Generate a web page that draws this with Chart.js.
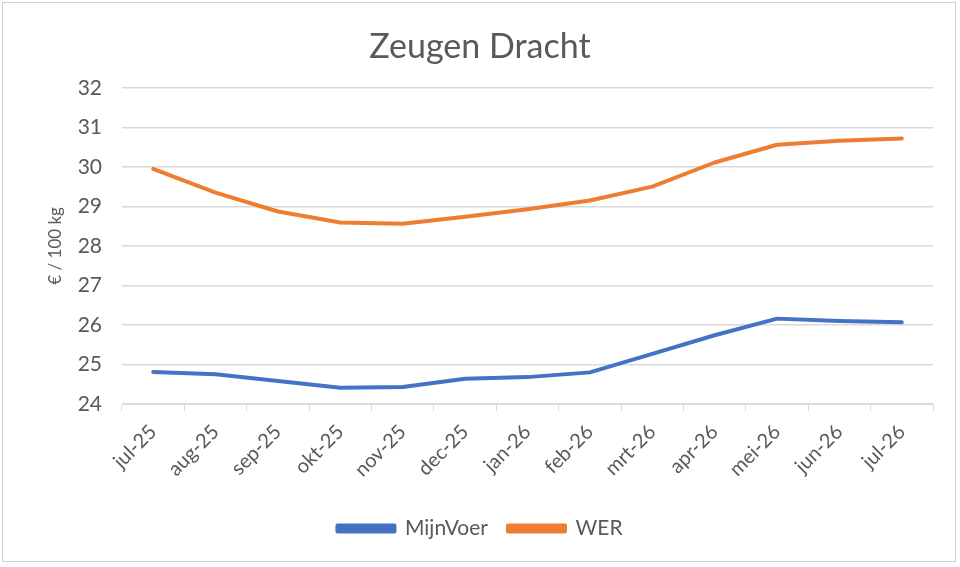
<!DOCTYPE html>
<html>
<head>
<meta charset="utf-8">
<script src="https://cdn.jsdelivr.net/npm/chart.js@4"></script>
<style>
html,body{margin:0;padding:0;background:#fff;}
#wrap{position:absolute;left:0;top:0;width:960px;height:567px;}
#frame{position:absolute;left:2px;top:2px;width:954px;height:560px;border:1px solid #d0d0d0;box-sizing:border-box;pointer-events:none;}
</style>
</head>
<body>
<div id="wrap"><canvas id="c" width="960" height="567"></canvas><div id="frame"></div></div>
<script>
const categories = ['jul-25','aug-25','sep-25','okt-25','nov-25','dec-25','jan-26','feb-26','mrt-26','apr-26','mei-26','jun-26','jul-26'];
const mijnVoer = [24.81,24.75,24.58,24.41,24.43,24.64,24.68,24.80,25.27,25.74,26.16,26.10,26.07];
const wer = [29.95,29.35,28.87,28.59,28.56,28.74,28.93,29.15,29.50,30.11,30.56,30.66,30.72];
const yTicks = [24,25,26,27,28,29,30,31,32];

const FONT = 'Lato, "Open Sans", sans-serif';
const GREY = '#595959';

new Chart(document.getElementById('c'), {
  type: 'line',
  data: {
    labels: categories,
    datasets: [
      {label:'MijnVoer', data: mijnVoer, borderColor:'#4472C4', backgroundColor:'#4472C4', borderWidth:4, pointRadius:0, tension:0, borderCapStyle:'round', borderJoinStyle:'round'},
      {label:'WER', data: wer, borderColor:'#ED7D31', backgroundColor:'#ED7D31', borderWidth:4, pointRadius:0, tension:0, borderCapStyle:'round', borderJoinStyle:'round'}
    ]
  },
  options: {
    responsive:false,
    animation:false,
    devicePixelRatio:1,
    layout:{padding:{left:27,right:27,top:18,bottom:18}},
    plugins:{
      title:{display:true,text:'Zeugen Dracht',color:GREY,font:{family:FONT,size:34,weight:'normal'},padding:{top:9,bottom:20}},
      legend:{position:'bottom',labels:{color:GREY,font:{family:FONT,size:21},boxWidth:57,boxHeight:6,padding:20}},
      tooltip:{enabled:false}
    },
    scales:{
      x:{
        offset:true,
        afterFit:(s)=>{s.height = 94;},
        grid:{drawOnChartArea:false,drawTicks:true,tickLength:7,offset:true,color:'#d9d9d9'},
        border:{display:true,color:'#d9d9d9',width:1},
        ticks:{color:GREY,font:{family:FONT,size:20},minRotation:45,maxRotation:45,padding:9}
      },
      y:{
        min:24,max:32,
        afterFit:(s)=>{s.width = 95;},
        afterBuildTicks:(s)=>{s.ticks = yTicks.map(v=>({value:v}));},
        grid:{color:'#d9d9d9',lineWidth:1.5,drawTicks:false},
        border:{display:false},
        ticks:{color:GREY,font:{family:FONT,size:21},padding:20},
        title:{display:true,text:'€ / 100 kg',color:GREY,font:{family:FONT,size:17},padding:{top:18,bottom:12}}
      }
    }
  }
});
</script>
</body>
</html>
